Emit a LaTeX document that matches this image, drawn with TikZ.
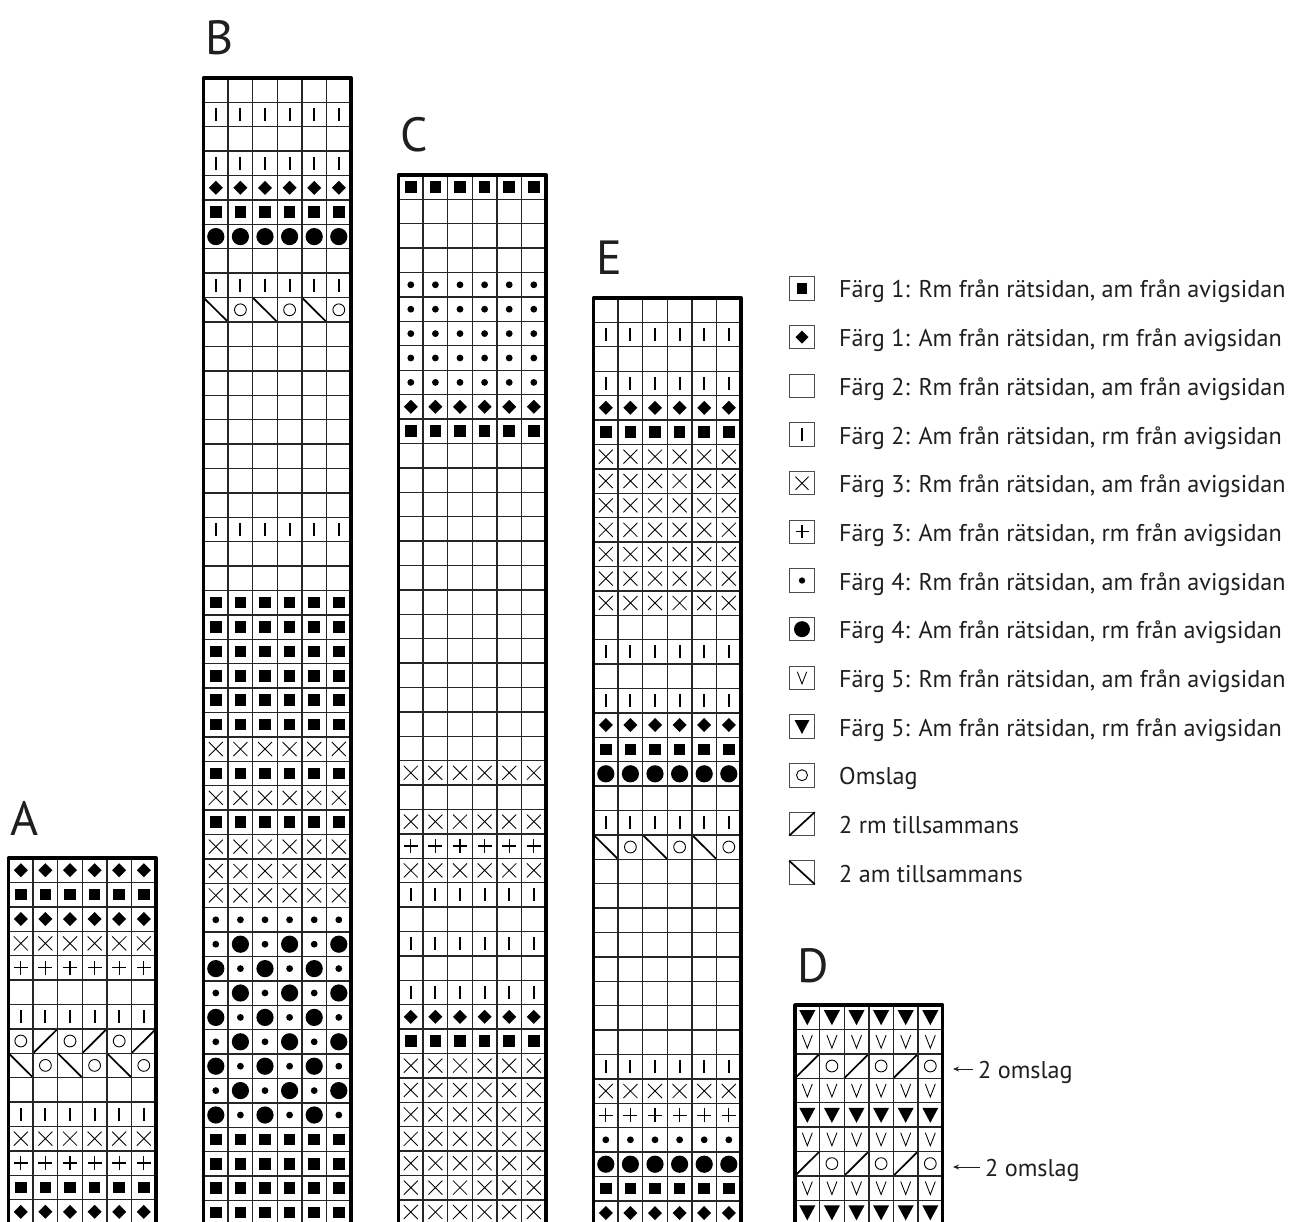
\documentclass[tikz,border=0pt]{standalone}
\usepackage{fontspec}
\setmainfont{PT Sans}
\usetikzlibrary{arrows.meta}
\tikzset{
  gridline/.style={line width=1.4pt, draw=black!85},
  chartborder/.style={line width=3.6pt, line join=round},
  thinsym/.style={line width=0.85pt},
  diagsym/.style={line width=1.7pt},
  legbox/.style={draw=black!70, line width=0.9pt},
  legtext/.style={anchor=base west, inner sep=0pt, text=black!88, font=\fontsize{24.2}{29}\selectfont},
  chartlabel/.style={anchor=base west, inner sep=0pt, text=black!88, font=\fontsize{48}{56}\selectfont},
  arrowline/.style={line width=1pt, draw=black!88, -{Stealth[length=6pt,width=5pt]}},
}
\def\knhw{12.3}\def\knhh{12.2}
\newcommand\knsymb{}
\newcommand\knsymI{\draw[line width=1.9pt] (0,-6.5) -- (0,6.5);}
\newcommand\knsymS{\fill (-5.8,-5.8) rectangle (5.8,5.8);}
\newcommand\knsymD{\fill (0,-7) -- (7,0) -- (0,7) -- (-7,0) -- cycle;}
\newcommand\knsymB{\fill (0,0) circle (8.6);}
\newcommand\knsyms{\fill (0,0) circle (3.4);}
\newcommand\knsymX{\draw[thinsym] (-7,-7) -- (7,7) (-7,7) -- (7,-7);}
\newcommand\knsymP{\draw[line width=1.1pt] (-7,0) -- (7,0) (0,-7) -- (0,7);}
\newcommand\knsymO{\draw[line width=0.9pt] (0,0) circle (5.9);}
\newcommand\knsymR{\draw[diagsym] (-\knhw,\knhh) -- (\knhw,-\knhh);}
\newcommand\knsymL{\draw[diagsym] (-\knhw,-\knhh) -- (\knhw,\knhh);}
\newcommand\knsymV{\draw[thinsym] (-5,-6.5) -- (0,6.5) -- (5,-6.5);}
\newcommand\knsymT{\fill (-8,-7) -- (8,-7) -- (0,8) -- cycle;}
\newcommand\knsymK{\ifodd\kk\relax\knsymO\else\knsymL\fi}
\newcommand\knsymY{\ifodd\kk\relax\knsymR\else\knsymO\fi}
\newcommand\knsymZ{\ifodd\kk\relax\knsymO\else\knsymR\fi}
\newcommand\knsymA{\ifodd\kk\relax\knsymB\else\knsyms\fi}
\newcommand\knsyma{\ifodd\kk\relax\knsyms\else\knsymB\fi}
\newcommand\knchart[4]{%
  \begin{scope}[shift={(#1,#2)}]
    \foreach \c [count=\rr from 0] in {#4}{
      \foreach \kk in {0,...,5}{
        \begin{scope}[shift={({\kk*24.6+12.3},{\rr*24.4+12.2})}]
          \csname knsym\c\endcsname
        \end{scope}
      }
    }
    \foreach \rr in {1,...,#3} \draw[gridline] (0,{\rr*24.4}) -- (147.6,{\rr*24.4});
    \foreach \kk in {1,...,5} \draw[gridline] ({\kk*24.6},0) -- ({\kk*24.6},{#3*24.4+10});
    \draw[chartborder] (0,{#3*24.4+10}) -- (0,0) -- (147.6,0) -- (147.6,{#3*24.4+10});
  \end{scope}
}
\begin{document}
\begin{tikzpicture}[x=1pt,y=-1pt]
\useasboundingbox (0,0) rectangle (1295,1222);
\clip (0,0) rectangle (1295,1222);
\fill[white] (0,0) rectangle (1295,1222);

% chart labels
\node[chartlabel] (labA) at (10,835) {A};
\node[chartlabel] (labB) at (205,55) {B};
\node[chartlabel] (labC) at (400,152) {C};
\node[chartlabel] (labE) at (596,275) {E};
\node[chartlabel] (labD) at (797,982) {D};

% charts
\knchart{8.5}{858}{15}{D,S,D,X,P,b,I,Y,K,b,I,X,P,S,D}
\knchart{203.5}{78}{47}{b,I,b,I,D,S,B,b,I,K,b,b,b,b,b,b,b,b,I,b,b,S,S,S,S,S,S,X,S,X,S,X,X,X,s,A,a,A,a,A,a,A,a,S,S,S,S}
\knchart{398.5}{175}{43}{S,b,b,b,s,s,s,s,s,D,S,b,b,b,b,b,b,b,b,b,b,b,b,b,X,b,X,P,X,I,b,I,b,I,D,S,X,X,X,X,X,X,X}
\knchart{593.5}{298}{38}{b,I,b,I,D,S,X,X,X,X,X,X,X,b,I,b,I,D,S,B,b,I,K,b,b,b,b,b,b,b,b,I,X,P,s,B,S,D}
\knchart{795}{1005}{9}{T,V,Z,V,T,V,Z,V,T}

% arrows for chart D
\node[legtext] (om1) at (978,1078) {2 omslag};
\coordinate (om1tail) at (973,1069);
\coordinate (om1tip) at (953,1069);
\draw[arrowline] (om1tail) -- (om1tip);
\node[legtext] (om2) at (985,1176) {2 omslag};
\coordinate (om2tail) at (980,1167);
\coordinate (om2tip) at (953,1167);
\draw[arrowline] (om2tail) -- (om2tip);

% legend
\foreach \sym/\txt [count=\ii from 0] in {
  S/{Färg 1: Rm från rätsidan, am från avigsidan},
  D/{Färg 1: Am från rätsidan, rm från avigsidan},
  b/{Färg 2: Rm från rätsidan, am från avigsidan},
  I/{Färg 2: Am från rätsidan, rm från avigsidan},
  X/{Färg 3: Rm från rätsidan, am från avigsidan},
  P/{Färg 3: Am från rätsidan, rm från avigsidan},
  s/{Färg 4: Rm från rätsidan, am från avigsidan},
  B/{Färg 4: Am från rätsidan, rm från avigsidan},
  V/{Färg 5: Rm från rätsidan, am från avigsidan},
  T/{Färg 5: Am från rätsidan, rm från avigsidan},
  O/{Omslag},
  R/{2 rm tillsammans},
  L/{2 am tillsammans}}{
  \pgfmathsetmacro\yy{288.5+48.67*\ii}
  \draw[legbox] (789.2,{\yy-11.75}) rectangle (814.8,{\yy+11.75});
  \begin{scope}[shift={(802,\yy)}, scale=0.93]
    \def\knhw{13.76}\def\knhh{12.63}
    \csname knsym\sym\endcsname
  \end{scope}
  \node[legtext] (leg\ii) at (839,{\yy+9.5}) {\txt};
}
\end{tikzpicture}
\end{document}
